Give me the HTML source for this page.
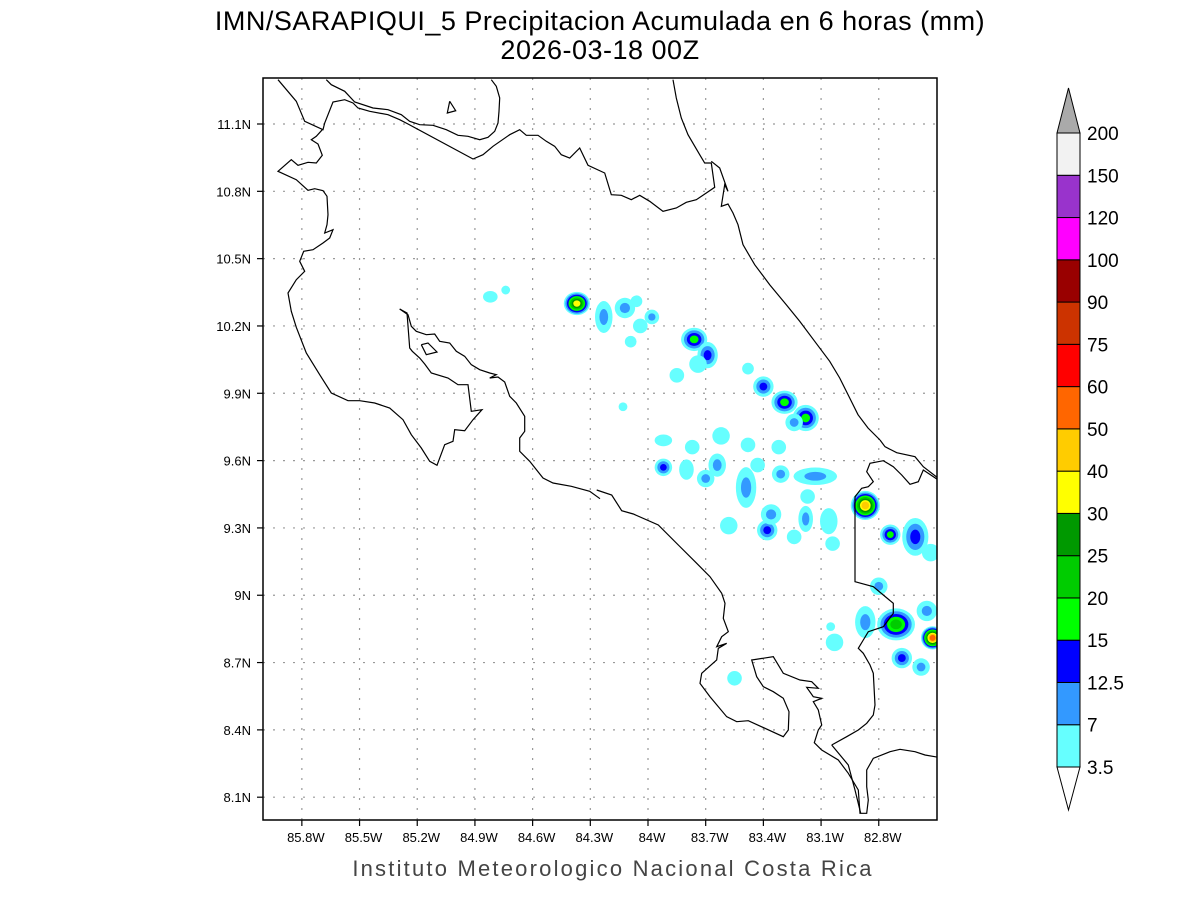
<!DOCTYPE html>
<html><head><meta charset="utf-8"><style>
body{margin:0;background:#fff;}
svg text{font-family:"Liberation Sans",sans-serif;}
</style></head><body>
<svg id="chart" width="1200" height="900" viewBox="0 0 1200 900" xmlns="http://www.w3.org/2000/svg">
<rect width="1200" height="900" fill="#fff"/>
<text x="600" y="30" text-anchor="middle" font-size="27" fill="#000" letter-spacing="0.5">IMN/SARAPIQUI_5 Precipitacion Acumulada en 6 horas (mm)</text>
<text x="600" y="59" text-anchor="middle" font-size="27" fill="#000" letter-spacing="0.5">2026-03-18 00Z</text>
<defs><clipPath id="plotclip"><rect x="263" y="78" width="674" height="742"/></clipPath></defs>
<g id="grid"></g>
<g id="rain" clip-path="url(#plotclip)"></g>
<g id="coast" clip-path="url(#plotclip)" fill="none" stroke="#000" stroke-width="1.2"></g>
<rect x="263" y="78" width="674" height="742" fill="none" stroke="#000" stroke-width="1.5"/>
<g id="axes"></g>
<g id="cbar"></g>
<text x="613" y="876" text-anchor="middle" font-size="22" fill="#444" letter-spacing="2.2">Instituto Meteorologico Nacional Costa Rica</text>
</svg>
<script>
const lonTicks=[-85.8,-85.5,-85.2,-84.9,-84.6,-84.3,-84,-83.7,-83.4,-83.1,-82.8];
const lonLabels=["85.8W","85.5W","85.2W","84.9W","84.6W","84.3W","84W","83.7W","83.4W","83.1W","82.8W"];
const latTicks=[11.1,10.8,10.5,10.2,9.9,9.6,9.3,9.0,8.7,8.4,8.1];
const latLabels=["11.1N","10.8N","10.5N","10.2N","9.9N","9.6N","9.3N","9N","8.7N","8.4N","8.1N"];
const levelLabels=["3.5","7","12.5","15","20","25","30","40","50","60","75","90","100","120","150","200"];
const levelColors=["#66ffff","#3399ff","#0000ff","#00ff00","#00cc00","#009900","#ffff00","#ffcc00","#ff6600","#ff0000","#cc3300","#990000","#ff00ff","#9933cc","#f2f2f2"];
const blobLon=[-84.37,-84.23,-84.12,-84.06,-83.98,-84.04,-84.09,-84.82,-84.74,-83.76,-83.69,-83.74,-83.85,-83.48,-83.40,-83.29,-83.18,-83.24,-84.13,-83.92,-83.92,-83.77,-83.80,-83.70,-83.64,-83.62,-83.48,-83.49,-83.43,-83.32,-83.31,-83.13,-83.17,-83.58,-83.38,-83.36,-83.18,-83.24,-83.06,-83.04,-82.87,-82.74,-82.61,-82.53,-82.80,-82.87,-82.71,-82.68,-82.52,-82.55,-83.03,-83.55,-83.05,-82.58];
const blobLat=[10.30,10.24,10.28,10.31,10.24,10.20,10.13,10.33,10.36,10.14,10.07,10.03,9.98,10.01,9.93,9.86,9.79,9.77,9.84,9.69,9.57,9.66,9.56,9.52,9.58,9.71,9.67,9.48,9.58,9.66,9.54,9.53,9.44,9.31,9.29,9.36,9.34,9.26,9.33,9.23,9.40,9.27,9.26,9.19,9.04,8.88,8.87,8.72,8.81,8.93,8.79,8.63,8.86,8.68];
const blobLevel=[6,1,1,0,1,0,0,0,0,3,2,0,0,0,2,3,3,1,0,0,2,0,0,1,1,0,0,1,0,0,1,1,0,0,2,1,1,0,0,0,7,3,2,0,1,1,4,2,8,1,0,0,0,1];
const blobRx=[8,5,6,3,4,4,3,4,2,8,6,5,4,3,6,8,8,5,2,5,5,4,4,5,5,5,4,6,4,4,5,14,4,5,6,6,4,4,5,4,9,6,8,5,5,6,12,6,7,6,5,4,2,5];
const blobRy=[7,10,6,3,4,4,3,3,2,7,8,5,4,3,6,7,8,5,2,3,5,4,6,5,7,5,4,13,4,4,5,5,4,5,6,6,8,4,8,4,9,6,12,5,5,10,10,6,7,6,5,4,2,5];

const NS="http://www.w3.org/2000/svg";
const X0=263,X1=937,Y0=78,Y1=820;
function xs(lon){return 648+(lon+84)*192.3;}
function ys(lat){return 124+(11.1-lat)*224.4;}
function mk(tag,attrs,parent){const e=document.createElementNS(NS,tag);for(const k in attrs)e.setAttribute(k,attrs[k]);parent.appendChild(e);return e;}

const grid=document.getElementById('grid'),axes=document.getElementById('axes');
lonTicks.forEach((v,i)=>{const x=xs(v);
 const l=mk('line',{x1:x,x2:x,y1:Y0,y2:Y1,stroke:'#999','stroke-width':1.2,'stroke-dasharray':'2,8'},grid);
 
 
 const t=mk('line',{x1:x,x2:x,y1:Y1,y2:Y1+6,stroke:'#000','stroke-width':1.2},axes);
 
 
 const tx=mk('text',{x:x+4,y:Y1+22,'text-anchor':'middle','font-size':13,fill:'#000'},axes);tx.textContent=lonLabels[i];
 
 
});
latTicks.forEach((v,i)=>{const y=ys(v);
 const l=mk('line',{x1:X0,x2:X1,y1:y,y2:y,stroke:'#999','stroke-width':1.2,'stroke-dasharray':'2,8'},grid);
 
 
 const t=mk('line',{x1:X0-6,x2:X0,y1:y,y2:y,stroke:'#000','stroke-width':1.2},axes);
 
 
 const tx=mk('text',{x:X0-12,y:y+5,'text-anchor':'end','font-size':13,fill:'#000'},axes);tx.textContent=latLabels[i];
 
 
});

// precipitation blobs
const rain=document.getElementById('rain');
blobLon.forEach((lon,i)=>{const cx=xs(lon),cy=ys(blobLat[i]),L=blobLevel[i];
 const RX=blobRx[i]*1.45+1.5,RY=blobRy[i]*1.45+1.5;
 for(let k=0;k<=L;k++){const s=1-k*0.8/(L+0.6);
  const e=mk('ellipse',{cx:cx,cy:cy,rx:Math.max(1,RX*s),ry:Math.max(1,RY*s),fill:levelColors[k]},rain);
  
  
 }});

// coastlines (zoom-space coords, converted)
const coastA=[[[45,5],[100,70],[125,130],[180,155],[185,135],[210,72],[245,65],[270,75],[285,90],[320,100],[375,110],[410,125],[435,138],[630,243],[660,230],[690,205],[740,170],[770,155],[790,172],[825,172],[850,190],[875,205],[895,230],[920,240],[950,210],[975,262],[1025,285],[1045,350],[1075,352],[1105,365],[1130,352],[1160,370],[1200,400],[1240,390],[1270,373],[1300,365],[1330,345],[1355,328],[1345,255],[1325,255],[1310,230],[1275,170],[1255,120],[1240,60],[1230,5]],
[[1345,250],[1370,270],[1395,340],[1385,320],[1375,385],[1395,378],[1410,405],[1425,440],[1440,500],[1475,560],[1520,620],[1570,680],[1610,730],[1655,790],[1700,850],[1730,900],[1760,960],[1785,1010],[1815,1050],[1851,1086]],
[[190,5],[205,20],[245,40],[275,72],[330,90],[375,95],[415,110],[440,130],[470,140],[510,142],[550,155],[585,172],[615,175],[650,185],[675,178],[695,160],[705,135],[708,100],[710,60],[700,25],[685,5]],
[[560,70],[553,105],[578,98],[560,70]],
[[475,800],[495,795],[522,822],[490,830],[475,800]],
[[178,155],[160,175],[145,185],[165,198],[178,232],[160,255],[135,253],[105,262],[85,245],[45,280],[100,305],[135,337],[155,332],[180,338],[192,355],[195,410],[192,440],[185,465],[210,455],[200,480],[180,495],[150,515],[122,520],[110,550],[125,580],[100,605],[75,645],[85,700],[100,748],[130,825],[170,890],[205,945],[255,968],[290,968],[335,975],[380,990],[420,1025],[445,1070],[475,1110],[500,1150],[522,1162],[545,1100],[570,1090],[575,1055],[605,1058],[630,1025],[657,995],[625,1000],[615,920],[585,920],[555,900],[505,885],[485,858],[470,840],[448,820],[440,810],[432,705],[410,693]],
[[410,693],[435,710],[445,745],[460,760],[490,770],[515,768],[530,790],[560,795],[580,820],[605,835],[625,860],[650,875],[680,885],[700,890],[680,900],[705,897],[725,912],[740,955],[760,975],[785,1015],[785,1060],[770,1080],[770,1120],[800,1150],[840,1200],[870,1215],[925,1225],[980,1240],[1011,1262]]];
const coastB=[[[-10,150],[35,165],[65,212],[100,222],[175,255],[235,315],[290,370],[330,410],[365,460],[375,490],[370,535],[385,575],[365,590],[350,620],[380,610],[355,625],[350,660],[305,700],[300,730],[330,770],[380,830],[410,845],[445,842],[550,890],[565,870],[567,815],[550,775],[520,755],[490,740],[470,710],[455,660],[520,650],[550,700],[600,720],[635,725],[655,745],[620,742],[640,770],[665,775],[640,785],[655,810],[665,855],[655,870],[643,908],[665,930],[715,960],[745,1000],[775,1050],[780,1120],[800,1120],[805,1080],[800,1040],[800,990],[820,955],[870,935],[900,928],[945,935],[975,945],[1015,952]],
[[695,915],[740,890],[775,870],[800,850],[820,825],[825,795],[820,700],[810,675],[790,640],[775,625],[790,600],[805,575],[850,560],[880,520],[880,490],[850,465],[820,440],[765,425],[765,170],[785,145],[805,140],[820,125],[800,95],[810,70],[850,62],[880,80],[905,105],[930,133],[955,125],[970,90],[1015,120]],
[[840,0],[855,20],[890,38],[945,50],[970,80],[1015,115]],
[[695,915],[745,975],[765,1050],[782,1120]]];
const coast=document.getElementById('coast');
function drawLines(set,ox,oy){set.forEach(pts=>{
 const p=mk('polyline',{points:pts.map(q=>(q[0]/3+ox).toFixed(1)+','+(q[1]/3+oy).toFixed(1)).join(' ')},coast);
 
 
});}
drawLines(coastA,263,78);drawLines(coastB,600,440);

// colorbar
const cb=document.getElementById('cbar');
const cbX=1057,cbW=23,cbTop=133,cbBot=767,n=levelColors.length,h=(cbBot-cbTop)/n;
levelColors.forEach((c,i)=>{const y=cbBot-(i+1)*h;
 const r=mk('rect',{x:cbX,y:y,width:cbW,height:h,fill:c,stroke:'#000','stroke-width':1},cb);
 
 
});
const tU=mk('polygon',{points:`${cbX},${cbTop} ${cbX+cbW},${cbTop} ${cbX+cbW/2},88`,fill:'#aaaaaa',stroke:'#000','stroke-width':1},cb);


const tD=mk('polygon',{points:`${cbX},${cbBot} ${cbX+cbW},${cbBot} ${cbX+cbW/2},810`,fill:'#fff',stroke:'#000','stroke-width':1},cb);


levelLabels.forEach((s,i)=>{const y=cbBot-i*h;
 const t=mk('text',{x:1087,y:y+7,'font-size':19,fill:'#000'},cb);t.textContent=s;
 
 
});
</script>
</body></html>
